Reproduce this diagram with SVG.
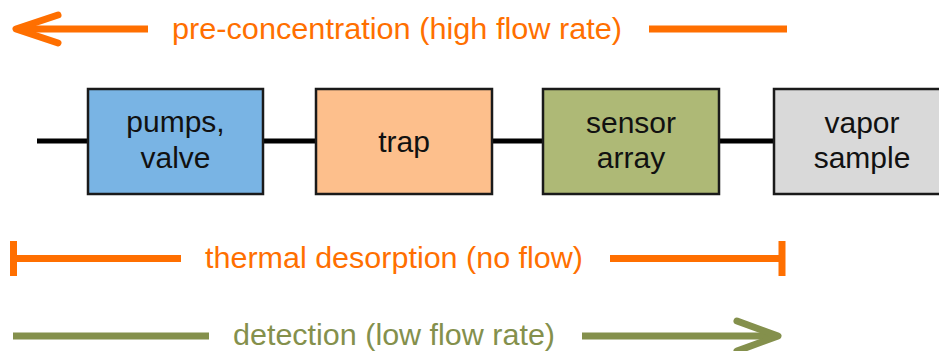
<svg xmlns="http://www.w3.org/2000/svg" width="939" height="351" viewBox="0 0 939 351">
<style>
.box{stroke:#1a1a1a;stroke-width:2.5}
.bt{font-family:"Liberation Sans",Arial,sans-serif;font-size:30px;fill:#111;text-anchor:middle}
.lbl{font-family:"Liberation Sans",Arial,sans-serif;font-size:29px}
.or{fill:#FF6F00}
.gr{fill:#84904C}
.ol{stroke:#FF6F00;stroke-width:7;fill:none}
.gl{stroke:#84904C;stroke-width:7;fill:none}
.conn{stroke:#000;stroke-width:5}
</style>
<rect width="939" height="351" fill="#fff"/>
<g id="connectors">
<line class="conn" x1="37" y1="141" x2="88" y2="141"/>
<line class="conn" x1="263" y1="141" x2="316" y2="141"/>
<line class="conn" x1="492" y1="141" x2="543" y2="141"/>
<line class="conn" x1="719" y1="141" x2="774" y2="141"/>
</g>
<g id="pumps">
<rect class="box" x="88" y="89" width="175" height="105" fill="#79B4E4"/>
<text class="bt" x="175.5" y="132">pumps,</text>
<text class="bt" x="175.5" y="168">valve</text>
</g>
<g id="trap">
<rect class="box" x="316" y="89" width="176" height="105" fill="#FDBF8C"/>
<text class="bt" x="404" y="152">trap</text>
</g>
<g id="sensor">
<rect class="box" x="543" y="89" width="176" height="105" fill="#AEB976"/>
<text class="bt" x="631" y="133">sensor</text>
<text class="bt" x="631" y="168">array</text>
</g>
<g id="vapor">
<rect class="box" x="774" y="89" width="176" height="105" fill="#D9D9D9"/>
<text class="bt" x="862" y="133">vapor</text>
<text class="bt" x="862" y="168">sample</text>
</g>
<g id="preconcentration">
<line class="ol" x1="17" y1="29" x2="148" y2="29"/>
<polyline class="ol" points="58,15 16,29 58,43" stroke-linecap="round" stroke-linejoin="round"/>
<line class="ol" x1="649" y1="29" x2="787" y2="29"/>
<text class="lbl or" x="172" y="39" textLength="450" lengthAdjust="spacingAndGlyphs">pre-concentration (high flow rate)</text>
</g>
<g id="thermal">
<line class="ol" x1="13" y1="258.5" x2="181" y2="258.5"/>
<line class="ol" x1="13.5" y1="241" x2="13.5" y2="276"/>
<line class="ol" x1="610" y1="258.5" x2="782" y2="258.5"/>
<line class="ol" x1="782" y1="241" x2="782" y2="276"/>
<text class="lbl or" x="205" y="268" textLength="378" lengthAdjust="spacingAndGlyphs">thermal desorption (no flow)</text>
</g>
<g id="detection">
<line class="gl" x1="13" y1="336" x2="209" y2="336"/>
<line class="gl" x1="582" y1="336" x2="776" y2="336"/>
<polyline class="gl" points="737,321 778,336 737,351" stroke-linecap="round" stroke-linejoin="round"/>
<text class="lbl gr" x="233" y="345" textLength="322" lengthAdjust="spacingAndGlyphs">detection (low flow rate)</text>
</g>
</svg>
